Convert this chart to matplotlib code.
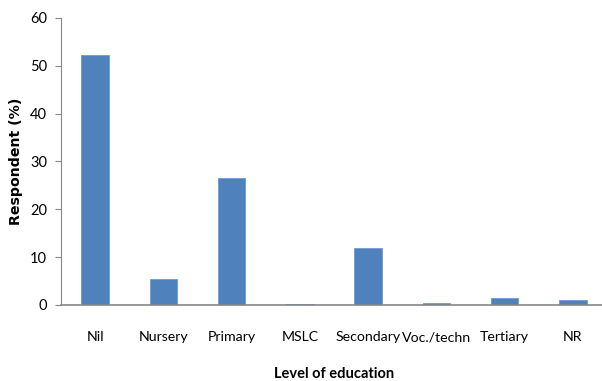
import matplotlib
matplotlib.use('Agg')
import matplotlib.pyplot as plt
import numpy as np

levels = ['Nil', 'Nursery', 'Primary', 'MSLC', 'Secondary', 'Voc./techn', 'Tertiary', 'NR']
respondents = [52.2, 5.4, 26.6, 0.2, 11.9, 0.4, 1.4, 1.1]
yticks = [0, 10, 20, 30, 40, 50, 60]

plt.rcParams['font.family'] = ['Lato', 'DejaVu Sans']

fig = plt.figure(figsize=(6.02, 3.81), dpi=100)
# plot area runs a little past the right edge of the figure
ax = fig.add_axes([61 / 602, 1 - 305 / 381, 546 / 602, 287 / 381])

x = np.arange(len(levels))
ax.bar(x, respondents, width=0.4, color='#4f81bd', edgecolor='#6f9bd1', linewidth=0.6)

ax.set_xlim(-0.5, len(levels) - 0.5)
ax.set_ylim(0, 60)
ax.set_yticks(yticks)
ax.set_xticks(x)
ax.set_xticklabels(levels, fontsize=10.2)
ax.tick_params(axis='y', labelsize=10.5, length=4, color='#868686', direction='out', pad=6)
ax.tick_params(axis='x', length=0, pad=19)

for side in ['top', 'right']:
    ax.spines[side].set_visible(False)
for side in ['left', 'bottom']:
    ax.spines[side].set_color('#868686')
ax.spines['bottom'].set_linewidth(1.2)

ax.set_ylabel('Respondent (%)', fontsize=10.2, fontweight='bold', labelpad=5,
              family='DejaVu Sans')
ax.set_xlabel('Level of education', fontsize=10.5, fontweight='bold', labelpad=17)

fig.savefig('out.png', dpi=100)
